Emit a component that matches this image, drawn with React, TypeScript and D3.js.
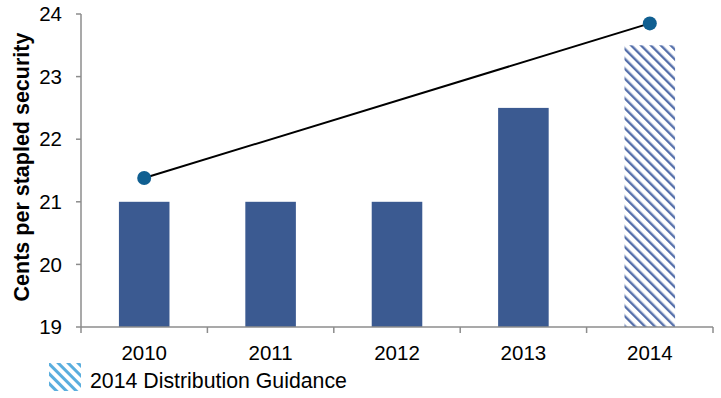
import React from "react";
import * as d3 from "d3";

const categories = ["2010", "2011", "2012", "2013", "2014"];
const barValues = [21, 21, 21, 22.5, 23.5];
const hatched = [false, false, false, false, true];
const lineCategories = ["2010", "2014"];
const lineValues = [21.38, 23.85];
const yTicks = [19, 20, 21, 22, 23, 24];
const yLabel = "Cents per stapled security";
const legendLabel = "2014 Distribution Guidance";

export default function App() {
  const W = 721, H = 398;
  const left = 81, right = 713, top = 14, bottom = 327;
  const x = d3.scaleBand<string>().domain(categories).range([left, right]).paddingInner(0.6).paddingOuter(0.3);
  const xb = d3.scaleBand<string>().domain(categories).range([left, right]);
  const y = d3.scaleLinear().domain([19, 24]).range([bottom, top]);
  const line = d3.line<number>()
    .x((_, i) => (xb(lineCategories[i]) as number) + xb.bandwidth() / 2)
    .y((d) => y(d));
  const font = "Liberation Sans, Arial, sans-serif";
  const axisColor = "#8c8c8c";
  return (
    <svg width={W} height={H} style={{ position: "absolute", left: 0, top: 0 }} fontFamily={font}>
      <defs>
        <pattern id="hatch" width="7" height="7" patternUnits="userSpaceOnUse" patternTransform="rotate(-45)">
          <rect width="7" height="7" fill="#ffffff" />
          <rect x="0" y="0" width="2.4" height="7" fill="#5670ab" />
        </pattern>
        <pattern id="hatchLegend" width="7" height="7" patternUnits="userSpaceOnUse" patternTransform="rotate(-45)">
          <rect width="7" height="7" fill="#ffffff" />
          <rect x="0" y="0" width="3" height="7" fill="#5aaede" />
        </pattern>
      </defs>
      {categories.map((c, i) => (
        <rect key={c} x={x(c)} y={y(barValues[i])} width={x.bandwidth()} height={y(19) - y(barValues[i])}
          fill={hatched[i] ? "url(#hatch)" : "#3b5a91"} />
      ))}
      <line x1={left} x2={left} y1={top} y2={bottom} stroke={axisColor} strokeWidth={1.5} />
      {yTicks.map((t) => (
        <g key={t}>
          <line x1={left - 5} x2={left} y1={y(t)} y2={y(t)} stroke={axisColor} strokeWidth={1.5} />
          <text x={left - 19} y={y(t)} dy="0.35em" textAnchor="end" fontSize={20.5} fill="#000">{t}</text>
        </g>
      ))}
      <line x1={left} x2={right} y1={bottom} y2={bottom} stroke={axisColor} strokeWidth={1.5} />
      {[...categories.map((c) => xb(c) as number), right].map((v, i) => (
        <line key={i} x1={v} x2={v} y1={bottom} y2={bottom + 6} stroke={axisColor} strokeWidth={1.5} />
      ))}
      {categories.map((c) => (
        <text key={c} x={(xb(c) as number) + xb.bandwidth() / 2} y={bottom + 33} textAnchor="middle" fontSize={20.5} fill="#000">{c}</text>
      ))}
      <path d={line(lineValues) || ""} fill="none" stroke="#000" strokeWidth={2} />
      {lineValues.map((v, i) => (
        <circle key={i} cx={(xb(lineCategories[i]) as number) + xb.bandwidth() / 2} cy={y(v)} r={7} fill="#105f91" />
      ))}
      <text transform={`translate(29, 167) rotate(-90)`} textAnchor="middle" fontSize={21.5} fontWeight="bold" fill="#000">{yLabel}</text>
      <rect x={49} y={363} width={32} height={28} fill="url(#hatchLegend)" />
      <text x={90} y={388} fontSize={21.3} fill="#000">{legendLabel}</text>
    </svg>
  );
}
